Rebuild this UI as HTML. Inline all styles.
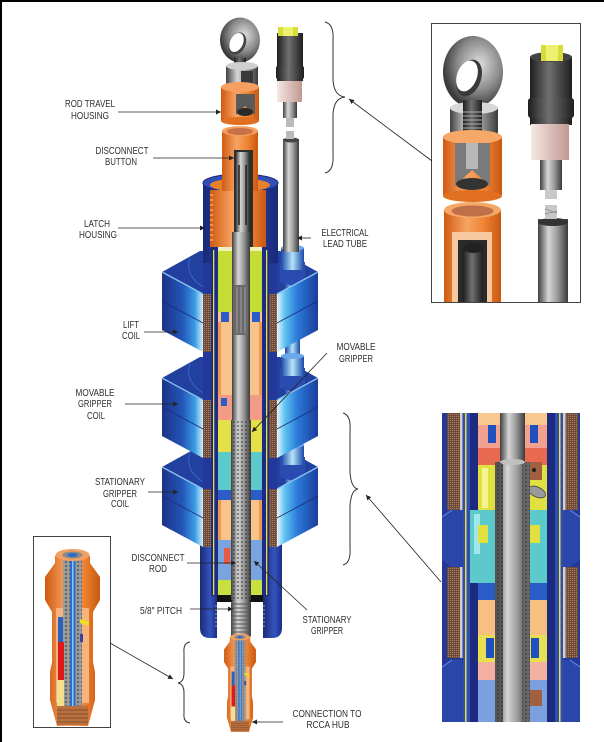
<!DOCTYPE html>
<html><head><meta charset="utf-8">
<style>
html,body{margin:0;padding:0;background:#fff;}
svg{display:block;}
text{font-family:"Liberation Sans",Arial,sans-serif;font-size:10px;fill:#2e2e2e;}
</style></head><body>
<svg width="604" height="742" viewBox="0 0 604 742" xmlns="http://www.w3.org/2000/svg">
<defs>
<linearGradient id="gGray" x1="0" x2="1" y1="0" y2="0"><stop offset="0" stop-color="#404040"/><stop offset="0.35" stop-color="#d6d6d6"/><stop offset="0.65" stop-color="#9a9a9a"/><stop offset="1" stop-color="#3a3a3a"/></linearGradient>
<linearGradient id="gDark" x1="0" x2="1" y1="0" y2="0"><stop offset="0" stop-color="#1e1e1e"/><stop offset="0.45" stop-color="#707070"/><stop offset="1" stop-color="#1e1e1e"/></linearGradient>
<linearGradient id="gOr" x1="0" x2="1" y1="0" y2="0"><stop offset="0" stop-color="#d05a10"/><stop offset="0.4" stop-color="#f7a464"/><stop offset="0.7" stop-color="#f08434"/><stop offset="1" stop-color="#c85810"/></linearGradient>
<linearGradient id="gNavy" x1="0" x2="1" y1="0" y2="0"><stop offset="0" stop-color="#182a78"/><stop offset="0.5" stop-color="#2c48b0"/><stop offset="1" stop-color="#182a78"/></linearGradient>
<linearGradient id="gWall" x1="0" x2="1" y1="0" y2="0"><stop offset="0" stop-color="#1a2a78"/><stop offset="0.6" stop-color="#3454bc"/><stop offset="1" stop-color="#1c2e88"/></linearGradient>
<linearGradient id="gLead" x1="0" x2="1" y1="0" y2="0"><stop offset="0" stop-color="#1a48a8"/><stop offset="0.5" stop-color="#b4e4fa"/><stop offset="1" stop-color="#1a48a8"/></linearGradient>
<linearGradient id="gPink" x1="0" x2="1" y1="0" y2="0"><stop offset="0" stop-color="#f6e8e2"/><stop offset="1" stop-color="#c09890"/></linearGradient>
<linearGradient id="gBL" x1="0" x2="1" y1="0" y2="0"><stop offset="0" stop-color="#1c3386"/><stop offset="0.5" stop-color="#2456b8"/><stop offset="0.8" stop-color="#3a9ae4"/><stop offset="1" stop-color="#cfeefc"/></linearGradient>
<linearGradient id="gBR" x1="0" x2="1" y1="0" y2="0"><stop offset="0" stop-color="#e4f6ff"/><stop offset="0.2" stop-color="#5cc0f0"/><stop offset="0.5" stop-color="#2a7ad8"/><stop offset="1" stop-color="#1c3c9c"/></linearGradient>
<radialGradient id="gRing" cx="0.6" cy="0.4" r="0.6"><stop offset="0" stop-color="#e0e0e0"/><stop offset="0.6" stop-color="#8a8a8a"/><stop offset="1" stop-color="#3a3a3a"/></radialGradient>
<pattern id="knurl" width="4" height="4" patternUnits="userSpaceOnUse"><circle cx="2" cy="2" r="1.1" fill="#333" opacity="0.55"/></pattern>
<pattern id="wind" width="2" height="2" patternUnits="userSpaceOnUse"><rect width="2" height="2" fill="#6e4a38"/><rect width="1" height="1" fill="#a88068"/></pattern>
<marker id="ah" viewBox="0 0 10 10" refX="10" refY="5" markerWidth="7" markerHeight="5" markerUnits="userSpaceOnUse" orient="auto"><path d="M0,0 L10,5 L0,10 z" fill="#222"/></marker>
<clipPath id="c1"><rect x="432" y="24" width="148" height="278"/></clipPath>
<clipPath id="c2"><rect x="442" y="413" width="138" height="309"/></clipPath>
<g id="conn">
  <path d="M55,556 L55,563 L45,577 L45,600 L52,612 L52,662 L50,672 L50,700 L57,726 L88,726 L95,700 L95,672 L93,662 L93,612 L100,600 L100,577 L90,563 L90,556 Z" fill="url(#gOr)"/>
  <rect x="56" y="608" width="7" height="95" fill="#f6b47c"/>
  <rect x="82" y="608" width="7" height="95" fill="#f6b47c"/>
  <rect x="63" y="556" width="19" height="168" fill="#9c9c9c"/>
  <rect x="63" y="556" width="19" height="168" fill="url(#knurl)"/>
  <rect x="70" y="556" width="5.5" height="168" fill="#2e6cc8"/>
  <rect x="72" y="556" width="1.5" height="168" fill="#8cc4f4"/>
  <ellipse cx="72.5" cy="555" rx="17" ry="6" fill="#f0a060"/>
  <ellipse cx="72.5" cy="555" rx="10" ry="3.5" fill="#8a8a8a"/>
  <ellipse cx="72.5" cy="555" rx="5" ry="2" fill="#2e6cc8"/>
  <rect x="58" y="617" width="5" height="25" fill="#2a60c0"/>
  <rect x="58" y="642" width="6" height="38" fill="#e01818"/>
  <rect x="57" y="680" width="7" height="42" fill="#f4e08c"/>
  <polygon points="80,619 89,622 89,626 80,623" fill="#f0e020"/>
  <rect x="80" y="634" width="3" height="8" fill="#4040a0"/>
  <rect x="57" y="706" width="31" height="19" fill="#b87040"/>
  <path d="M57,710 h31 M57,714 h31 M57,718 h31 M57,722 h31" stroke="#7a4420" stroke-width="0.8"/>
</g>
</defs>

<rect width="604" height="742" fill="#fff"/>
<rect x="0" y="0" width="604" height="2" fill="#000"/>
<rect x="0" y="0" width="2" height="742" fill="#000"/>

<!-- lower pipe walls -->
<path d="M200,525 L200,628 Q200,638 210,638 L217,638 L217,525 Z" fill="url(#gWall)"/>
<path d="M263,525 L263,638 L272,638 Q282,638 282,628 L282,525 Z" fill="url(#gWall)"/>
<path d="M215,606 h2 M215,610 h2 M215,614 h2 M215,618 h2 M215,622 h2 M215,626 h2 M263,606 h2 M263,610 h2 M263,614 h2 M263,618 h2 M263,622 h2 M263,626 h2" stroke="#9a9ab0" stroke-width="1"/>

<!-- coil top faces -->
<g fill="#22409e">
<polygon points="162,272 200,251 207,251 207,294 203,294"/>
<polygon points="162,378 200,357 207,357 207,400 203,400"/>
<polygon points="162,467 200,446 207,446 207,489 203,489"/>
<polygon points="318,272 280,251 273,251 273,294 277,294"/>
<polygon points="318,378 280,357 273,357 273,400 277,400"/>
<polygon points="318,467 280,446 273,446 273,489 277,489"/>
</g>
<g fill="none" stroke="#3a62cc" stroke-width="1">
<path d="M190,258 Q184,276 205,288"/><path d="M190,364 Q184,382 205,394"/><path d="M190,453 Q184,471 205,483"/>
</g>

<!-- lead tube -->
<rect x="285" y="250" width="15" height="280" fill="url(#gLead)"/>
<path d="M280,262 L280,282 L305,290 L305,262 Z" fill="#2a4cb0"/>
<rect x="281" y="248" width="23" height="22" fill="url(#gLead)"/>
<ellipse cx="292.5" cy="248" rx="11.5" ry="3" fill="#6aa8e8"/>
<path d="M280,368 L280,388 L305,396 L305,368 Z" fill="#2a4cb0"/>
<rect x="281" y="356" width="23" height="20" fill="url(#gLead)"/>
<ellipse cx="292.5" cy="356" rx="11.5" ry="3" fill="#6aa8e8"/>
<path d="M280,457 L280,477 L305,485 L305,457 Z" fill="#2a4cb0"/>
<rect x="281" y="445" width="23" height="20" fill="url(#gLead)"/>
<ellipse cx="292.5" cy="445" rx="11.5" ry="3" fill="#6aa8e8"/>

<!-- coil front faces -->
<polygon points="162,272 203,294 203,352 162,330" fill="url(#gBL)"/>
<polygon points="162,378 203,400 203,458 162,436" fill="url(#gBL)"/>
<polygon points="162,467 203,489 203,547 162,525" fill="url(#gBL)"/>
<polygon points="318,272 277,294 277,352 318,330" fill="url(#gBR)"/>
<polygon points="318,378 277,400 277,458 318,436" fill="url(#gBR)"/>
<polygon points="318,467 277,489 277,547 318,525" fill="url(#gBR)"/>
<g stroke="#8cc0f0" stroke-width="1.3">
<line x1="162" y1="272" x2="203" y2="294"/><line x1="162" y1="378" x2="203" y2="400"/><line x1="162" y1="467" x2="203" y2="489"/>
<line x1="318" y1="272" x2="277" y2="294"/><line x1="318" y1="378" x2="277" y2="400"/><line x1="318" y1="467" x2="277" y2="489"/>
</g>
<g stroke="#1a2c78" stroke-width="0.8">
<line x1="162" y1="301" x2="203" y2="323"/><line x1="162" y1="407" x2="203" y2="429"/><line x1="162" y1="496" x2="203" y2="518"/>
<line x1="318" y1="301" x2="277" y2="323"/><line x1="318" y1="407" x2="277" y2="429"/><line x1="318" y1="496" x2="277" y2="518"/>
</g>

<!-- central column -->
<rect x="203" y="245" width="74" height="295" fill="#22389a"/>

<!-- latch housing -->
<rect x="203" y="183" width="75" height="80" fill="url(#gNavy)"/>
<ellipse cx="240.5" cy="183" rx="37.5" ry="9" fill="#3050b8" stroke="#1a2a78" stroke-width="1"/>
<ellipse cx="240" cy="185" rx="30" ry="6.5" fill="#e8802c"/>
<rect x="210" y="190" width="56" height="57" fill="url(#gOr)"/>
<path d="M210,195 h3 M210,200 h3 M210,205 h3 M210,210 h3 M210,215 h3 M210,220 h3 M210,225 h3 M210,230 h3 M210,235 h3 M210,240 h3" stroke="#fbd0a8" stroke-width="1"/>

<!-- inner walls -->
<rect x="211" y="247" width="7" height="349" fill="#1c2c84"/>
<rect x="262" y="247" width="7" height="349" fill="#1c2c84"/>
<rect x="213" y="250" width="1.3" height="345" fill="#e8e040"/>
<rect x="266" y="250" width="1.3" height="345" fill="#e8e040"/>

<!-- windings -->
<rect x="203" y="294" width="8" height="58" fill="url(#wind)"/>
<rect x="203" y="400" width="8" height="58" fill="url(#wind)"/>
<rect x="203" y="489" width="8" height="58" fill="url(#wind)"/>
<rect x="269" y="294" width="8" height="58" fill="url(#wind)"/>
<rect x="269" y="400" width="8" height="58" fill="url(#wind)"/>
<rect x="269" y="489" width="8" height="58" fill="url(#wind)"/>

<!-- internals -->
<rect x="218" y="247" width="44" height="65" fill="#c4dc34"/>
<rect x="218" y="247" width="44" height="4" fill="#f0f0c0"/>
<rect x="218" y="312" width="44" height="83" fill="#f8c48c"/>
<rect x="221" y="312" width="8" height="10" fill="#2c5cc8"/><rect x="252" y="312" width="8" height="10" fill="#2c5cc8"/>
<rect x="218" y="395" width="44" height="25" fill="#f29c86"/>
<rect x="221" y="398" width="6" height="8" fill="#2c5cc8"/>
<rect x="218" y="420" width="44" height="32" fill="#e4e048"/>
<rect x="218" y="452" width="44" height="38" fill="#5ccaca"/>
<rect x="218" y="490" width="44" height="10" fill="#2c5cc8"/>
<rect x="218" y="500" width="44" height="40" fill="#f8c48c"/>
<rect x="218" y="540" width="44" height="40" fill="#7aa4e0"/>
<rect x="224" y="548" width="6" height="16" fill="#e85a40"/>
<rect x="218" y="580" width="44" height="16" fill="#c8e040"/>
<rect x="218" y="322" width="3" height="73" fill="#ee9a50"/><rect x="259" y="322" width="3" height="73" fill="#ee9a50"/>
<rect x="218" y="500" width="3" height="40" fill="#ee9a50"/><rect x="259" y="500" width="3" height="40" fill="#ee9a50"/>
<rect x="217" y="595" width="46" height="7" fill="#111"/>

<!-- top eye & housings -->
<ellipse cx="240" cy="40" rx="20" ry="22.5" fill="url(#gRing)"/>
<ellipse cx="237.5" cy="43.5" rx="8" ry="11.5" transform="rotate(25 237.5 43.5)" fill="#444"/>
<ellipse cx="236.5" cy="42.5" rx="6.5" ry="10" transform="rotate(25 236.5 42.5)" fill="#fff"/>
<rect x="234" y="58" width="12" height="16" fill="url(#gDark)"/>
<rect x="226" y="66" width="32" height="24" fill="url(#gGray)"/>
<ellipse cx="242" cy="66" rx="16" ry="4" fill="#cfcfcf"/>
<rect x="241" y="71" width="12" height="19" fill="#3a3a3a"/>
<rect x="221" y="87" width="38" height="34" fill="url(#gOr)"/>
<ellipse cx="240" cy="87" rx="19" ry="5" fill="#f5a060"/>
<path d="M236,94 L255,94 L255,115 L245,106 L236,115 Z" fill="#5a5a5a"/>
<ellipse cx="245" cy="112" rx="8" ry="4" fill="#2a2a2a"/>
<ellipse cx="240" cy="121" rx="19" ry="4" fill="#e07020"/>
<rect x="222" y="131" width="36" height="60" fill="url(#gOr)"/>
<ellipse cx="240" cy="131" rx="18" ry="5" fill="#f5a060"/>
<ellipse cx="240" cy="131.5" rx="13" ry="3.5" fill="#c87048"/>
<rect x="234" y="150" width="19" height="97" fill="#2e2e2e"/>

<!-- rod -->
<rect x="236" y="152" width="13" height="80" fill="url(#gGray)"/>
<path d="M239,165 v60 M246,165 v60" stroke="#222" stroke-width="1.5"/>
<rect x="232" y="232" width="18" height="190" fill="url(#gGray)"/>
<rect x="234" y="285" width="14" height="50" fill="#6a6a6a"/>
<path d="M237,287 v46 M241,287 v46 M245,287 v46" stroke="#aaa" stroke-width="0.8"/>
<rect x="231" y="420" width="20" height="180" fill="url(#gGray)"/>
<rect x="231" y="420" width="20" height="180" fill="url(#knurl)"/>
<rect x="231" y="600" width="20" height="38" rx="3" fill="url(#gGray)"/>
<path d="M231,604 h20 M231,608 h20 M231,612 h20 M231,616 h20 M231,620 h20 M231,624 h20 M231,628 h20 M231,632 h20" stroke="#555" stroke-width="1"/>

<!-- electrical connector main -->
<rect x="283" y="139" width="16" height="113" fill="url(#gGray)"/>
<ellipse cx="291" cy="140" rx="8" ry="2.5" fill="#444"/>
<rect x="286" y="118" width="8" height="9" fill="#bbb"/>
<rect x="286" y="131" width="8" height="8" fill="#bbb"/>
<rect x="283" y="101" width="14" height="17" fill="url(#gGray)"/>
<rect x="277" y="33" width="26" height="48" fill="url(#gDark)"/>
<rect x="276" y="66" width="28" height="13" rx="2" fill="url(#gDark)"/>
<rect x="278" y="27" width="20" height="9" fill="#d8dc38"/>
<rect x="283" y="27" width="10" height="9" fill="#eef070"/>
<rect x="277" y="81" width="25" height="21" fill="url(#gPink)"/>

<!-- bottom connection piece -->
<use href="#conn" transform="translate(240,636) scale(0.58,0.555) translate(-72.5,-553)"/>

<!-- top inset -->
<rect x="431.5" y="23.5" width="149" height="279" fill="#fff" stroke="#444"/>
<g clip-path="url(#c1)">
 <ellipse cx="473" cy="72" rx="30" ry="36" fill="url(#gRing)"/>
 <ellipse cx="469" cy="78" rx="12" ry="19" transform="rotate(20 469 78)" fill="#3a3a3a"/>
 <ellipse cx="467" cy="76" rx="10" ry="16" transform="rotate(20 467 76)" fill="#fff"/>
 <rect x="450" y="108" width="48" height="37" fill="url(#gGray)"/>
 <ellipse cx="474" cy="108" rx="24" ry="6" fill="#d8d8d8"/>
 <rect x="463" y="100" width="19" height="42" fill="url(#gDark)"/>
 <path d="M463,112 h19 M463,116 h19 M463,120 h19 M463,124 h19 M463,128 h19 M463,132 h19" stroke="#aaa" stroke-width="1"/>
 <rect x="443" y="137" width="59" height="58" fill="url(#gOr)"/>
 <ellipse cx="472.5" cy="137" rx="29.5" ry="7" fill="#f6a868"/>
 <path d="M455,143 L490,143 L490,186 L472,170 L455,186 Z" fill="#7a7a7a"/>
 <ellipse cx="472" cy="184" rx="16" ry="6" fill="#333"/>
 <rect x="466" y="143" width="12" height="26" fill="#b8b8b8"/>
 <ellipse cx="472.5" cy="196" rx="29.5" ry="6" fill="#e07020"/>
 <rect x="444" y="210" width="57" height="95" fill="url(#gOr)"/>
 <ellipse cx="472.5" cy="210" rx="28.5" ry="8" fill="#f6a868"/>
 <ellipse cx="472.5" cy="211" rx="21" ry="5.5" fill="#c07048"/>
 <rect x="452" y="232" width="40" height="75" fill="#f8c8a0"/>
 <rect x="458" y="240" width="29" height="67" fill="#2a2a2a"/>
 <rect x="463" y="250" width="20" height="57" fill="url(#gDark)"/>
 <ellipse cx="473" cy="248" rx="10" ry="5" fill="#222"/>
 <rect x="538" y="219" width="30" height="90" fill="url(#gGray)"/>
 <ellipse cx="553" cy="222" rx="15" ry="4" fill="#333"/>
 <rect x="545" y="205" width="12" height="14" fill="#c8c8c8"/>
 <path d="M545,209 l12,4 M545,214 l12,-3" stroke="#888" stroke-width="0.8"/>
 <rect x="545" y="190" width="12" height="9" fill="#c8c8c8"/>
 <rect x="540" y="160" width="22" height="30" fill="url(#gGray)"/>
 <rect x="530" y="57" width="42" height="68" fill="url(#gDark)"/>
 <ellipse cx="551" cy="57" rx="21" ry="5" fill="#444"/>
 <rect x="528" y="98" width="46" height="20" rx="3" fill="url(#gDark)"/>
 <rect x="541" y="45" width="22" height="16" fill="#d8dc38"/>
 <rect x="546" y="45" width="12" height="16" fill="#eef070"/>
 <rect x="531" y="124" width="38" height="36" fill="url(#gPink)"/>
</g>

<!-- right inset -->
<g clip-path="url(#c2)">
 <rect x="442" y="413" width="138" height="309" fill="#24389a"/>
 <polygon points="442,517 452,510 463,510 463,567 452,567 442,560" fill="#2a46a8"/>
 <polygon points="442,667 452,660 463,660 463,722 442,722" fill="#2a46a8"/>
 <polygon points="580,517 570,510 563,510 563,567 570,567 580,560" fill="#2a46a8"/>
 <polygon points="580,667 570,660 563,660 563,722 580,722" fill="#2a46a8"/>
 <path d="M442,517 L452,510 M442,667 L452,660 M580,517 L570,510 M580,667 L570,660" stroke="#5a80d8" stroke-width="1.2"/>
 <rect x="447" y="413" width="15" height="97" fill="url(#wind)"/>
 <rect x="447" y="567" width="15" height="91" fill="url(#wind)"/>
 <rect x="563" y="413" width="15" height="97" fill="url(#wind)"/>
 <rect x="563" y="567" width="15" height="91" fill="url(#wind)"/>
 <rect x="460" y="413" width="2.5" height="97" fill="#d8d0c8"/>
 <rect x="460" y="567" width="2.5" height="91" fill="#d8d0c8"/>
 <rect x="563" y="413" width="2.5" height="97" fill="#d8d0c8"/>
 <rect x="563" y="567" width="2.5" height="91" fill="#d8d0c8"/>
 <rect x="463" y="413" width="7" height="309" fill="#2f4eb0"/>
 <rect x="465" y="413" width="1.5" height="309" fill="#e8e040"/>
 <rect x="555" y="413" width="8" height="309" fill="#2f4eb0"/>
 <rect x="559" y="413" width="1.5" height="309" fill="#e8e040"/>
 <rect x="470" y="413" width="8" height="309" fill="#1c2a80"/>
 <rect x="547" y="413" width="8" height="309" fill="#1c2a80"/>
 <rect x="478" y="413" width="69" height="12" fill="#f8c890"/>
 <rect x="478" y="425" width="69" height="23" fill="#f2a090"/>
 <rect x="488" y="425" width="8" height="18" fill="#2050c0"/><rect x="530" y="425" width="8" height="18" fill="#2050c0"/>
 <rect x="478" y="448" width="69" height="17" fill="#e86a50"/>
 <rect x="478" y="465" width="69" height="45" fill="#e0e040"/>
 <rect x="482" y="468" width="6" height="40" fill="#f4f490"/>
 <rect x="528" y="462" width="14" height="18" fill="#a06040"/>
 <circle cx="534" cy="470" r="2" fill="#222"/>
 <ellipse cx="537" cy="492" rx="9" ry="5" transform="rotate(25 537 492)" fill="#9a9a9a" stroke="#444" stroke-width="0.8"/>
 <rect x="470" y="510" width="77" height="73" fill="#5ccaca"/>
 <rect x="474" y="514" width="6" height="40" fill="#a0e8e8"/>
 <rect x="478" y="525" width="10" height="18" fill="#e0e040"/>
 <rect x="530" y="525" width="10" height="18" fill="#e0e040"/>
 <rect x="478" y="583" width="69" height="17" fill="#2a5cc8"/>
 <rect x="478" y="600" width="69" height="35" fill="#f8c080"/>
 <rect x="478" y="635" width="69" height="27" fill="#e8e050"/>
 <rect x="486" y="638" width="8" height="20" fill="#2050c0"/><rect x="531" y="638" width="8" height="20" fill="#2050c0"/>
 <rect x="478" y="662" width="69" height="18" fill="#f4b0a0"/>
 <rect x="478" y="680" width="69" height="42" fill="#7aa0e0"/>
 <rect x="528" y="690" width="14" height="16" fill="#a06040"/>
 <rect x="500" y="413" width="25" height="52" fill="url(#gGray)"/>
 <rect x="495" y="462" width="35" height="260" fill="url(#gGray)"/>
 <rect x="495" y="462" width="8" height="260" fill="#555"/>
 <rect x="522" y="462" width="8" height="260" fill="#666"/>
 <rect x="495" y="462" width="8" height="260" fill="url(#knurl)"/>
 <rect x="522" y="462" width="8" height="260" fill="url(#knurl)"/>
 <ellipse cx="512.5" cy="462" rx="12.5" ry="3" fill="#c0c0c0"/>
</g>

<!-- bottom-left inset -->
<rect x="33.5" y="536.5" width="77" height="191" fill="#fff" stroke="#444"/>
<use href="#conn"/>

<!-- braces -->
<g fill="none" stroke="#333" stroke-width="1">
<path d="M325,22 Q334,24 333,40 L333,80 Q334,96 345,97 Q334,98 333,114 L333,155 Q334,171 325,173"/>
<path d="M343,413 Q351,415 350,430 L350,472 Q351,488 358,489 Q351,490 350,506 L350,548 Q351,563 343,565"/>
<path d="M190,642 Q183,643 184,653 L184,673 Q184,682 178,683 Q184,684 184,693 L184,713 Q183,722 190,723"/>
</g>

<!-- leader lines -->
<g stroke="#222" stroke-width="0.8" marker-end="url(#ah)">
<line x1="432" y1="161" x2="349" y2="99"/>
<line x1="441" y1="582" x2="366" y2="495"/>
<line x1="110" y1="643" x2="173" y2="679"/>
<line x1="118" y1="112" x2="221" y2="112"/>
<line x1="153" y1="158" x2="234" y2="158"/>
<line x1="118" y1="228" x2="205" y2="228"/>
<line x1="144" y1="332" x2="178" y2="332"/>
<line x1="125" y1="404" x2="178" y2="404"/>
<line x1="148" y1="492" x2="178" y2="492"/>
<line x1="311" y1="238" x2="297" y2="238"/>
<line x1="327" y1="353" x2="252" y2="432"/>
<line x1="187" y1="563" x2="236" y2="563"/>
<line x1="190" y1="609" x2="233" y2="609"/>
<line x1="307" y1="610" x2="254" y2="561"/>
<line x1="283" y1="722" x2="252" y2="722"/>
</g>

<!-- labels -->
<g text-anchor="middle">
<text x="90" y="107" textLength="50" lengthAdjust="spacingAndGlyphs">ROD TRAVEL</text>
<text x="90" y="119" textLength="38" lengthAdjust="spacingAndGlyphs">HOUSING</text>
<text x="122" y="154" textLength="53" lengthAdjust="spacingAndGlyphs">DISCONNECT</text>
<text x="121" y="165" textLength="32" lengthAdjust="spacingAndGlyphs">BUTTON</text>
<text x="97" y="227" textLength="26" lengthAdjust="spacingAndGlyphs">LATCH</text>
<text x="98" y="238" textLength="38" lengthAdjust="spacingAndGlyphs">HOUSING</text>
<text x="131" y="328" textLength="16" lengthAdjust="spacingAndGlyphs">LIFT</text>
<text x="131" y="339" textLength="18" lengthAdjust="spacingAndGlyphs">COIL</text>
<text x="95" y="396" textLength="39" lengthAdjust="spacingAndGlyphs">MOVABLE</text>
<text x="95" y="407" textLength="34" lengthAdjust="spacingAndGlyphs">GRIPPER</text>
<text x="96" y="419" textLength="18" lengthAdjust="spacingAndGlyphs">COIL</text>
<text x="120" y="485" textLength="50" lengthAdjust="spacingAndGlyphs">STATIONARY</text>
<text x="120" y="497" textLength="34" lengthAdjust="spacingAndGlyphs">GRIPPER</text>
<text x="120" y="507" textLength="18" lengthAdjust="spacingAndGlyphs">COIL</text>
<text x="345" y="236" textLength="47" lengthAdjust="spacingAndGlyphs">ELECTRICAL</text>
<text x="345" y="247" textLength="44" lengthAdjust="spacingAndGlyphs">LEAD TUBE</text>
<text x="356" y="350" textLength="39" lengthAdjust="spacingAndGlyphs">MOVABLE</text>
<text x="356" y="362" textLength="34" lengthAdjust="spacingAndGlyphs">GRIPPER</text>
<text x="158" y="561" textLength="53" lengthAdjust="spacingAndGlyphs">DISCONNECT</text>
<text x="158" y="572" textLength="18" lengthAdjust="spacingAndGlyphs">ROD</text>
<text x="161" y="614" textLength="42" lengthAdjust="spacingAndGlyphs">5/8" PITCH</text>
<text x="327" y="623" textLength="49" lengthAdjust="spacingAndGlyphs">STATIONARY</text>
<text x="327" y="634" textLength="32" lengthAdjust="spacingAndGlyphs">GRIPPER</text>
<text x="327" y="717" textLength="69" lengthAdjust="spacingAndGlyphs">CONNECTION TO</text>
<text x="328" y="728" textLength="43" lengthAdjust="spacingAndGlyphs">RCCA HUB</text>
</g>
</svg>
</body></html>
